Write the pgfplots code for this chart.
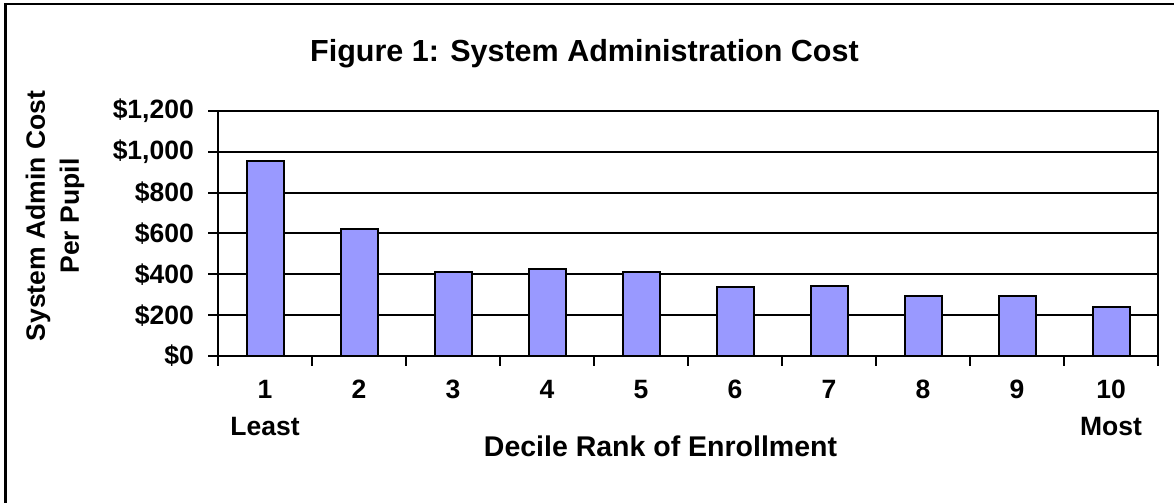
\documentclass[border=0pt]{standalone}
\usepackage{pgfplots}
\pgfplotsset{compat=1.18}
\usepackage{fontspec}
\setmainfont{Liberation Sans}
\definecolor{barblue}{HTML}{9999FF}
\begin{document}
\begin{tikzpicture}
\path[use as bounding box] (0,0) rectangle (1174bp,503bp);
\draw[line width=2.2bp,black] (5.5bp,0) -- (5.5bp,499bp) -- (1174bp,499bp);
\begin{axis}[
  at={(218bp,147bp)}, anchor=south west,
  scale only axis, width=940bp, height=245bp,
  xmin=0.5, xmax=10.5, ymin=0, ymax=1200,
  axis line style={black, line width=2.2bp},
  ymajorgrids, grid style={black, line width=2bp},
  tick align=outside,
  xtick pos=bottom, ytick pos=left,
  major tick length=10bp,
  tick style={black, line width=2bp},
  xtick={0.5,1.5,...,10.5},
  x tick label as interval,
  xticklabels={{1\\Least},2,3,4,5,6,7,8,9,{10\\Most}},
  ytick={0,200,400,600,800,1000,1200},
  yticklabels={\$0,\$200,\$400,\$600,\$800,{\$1,000},{\$1,200}},
  tick label style={font=\fontsize{26.5bp}{37bp}\selectfont\bfseries},
  xticklabel style={align=center, inner sep=0pt, anchor=north, yshift=-14bp},
  yticklabel style={inner sep=0pt, anchor=east, xshift=-14bp},
  ybar, bar width=37bp,
  /pgf/number format/assume math mode=true,
]
\addplot[fill=barblue, draw=black, line width=2bp] coordinates {
  (1,954) (2,620) (3,411) (4,425) (5,410) (6,336) (7,343) (8,294) (9,292) (10,240)
};
\end{axis}
\node[anchor=base, font=\fontsize{30.5bp}{36bp}\selectfont\bfseries] at (584.5bp,441.3bp) {Figure 1: System Administration Cost};
\node[rotate=90, align=center, font=\fontsize{26.5bp}{34bp}\selectfont\bfseries] at (55bp,287bp) {System Admin Cost\\Per Pupil};
\node[anchor=base, font=\fontsize{28.5bp}{34bp}\selectfont\bfseries] at (660.5bp,46bp) {Decile Rank of Enrollment};
\end{tikzpicture}
\end{document}
